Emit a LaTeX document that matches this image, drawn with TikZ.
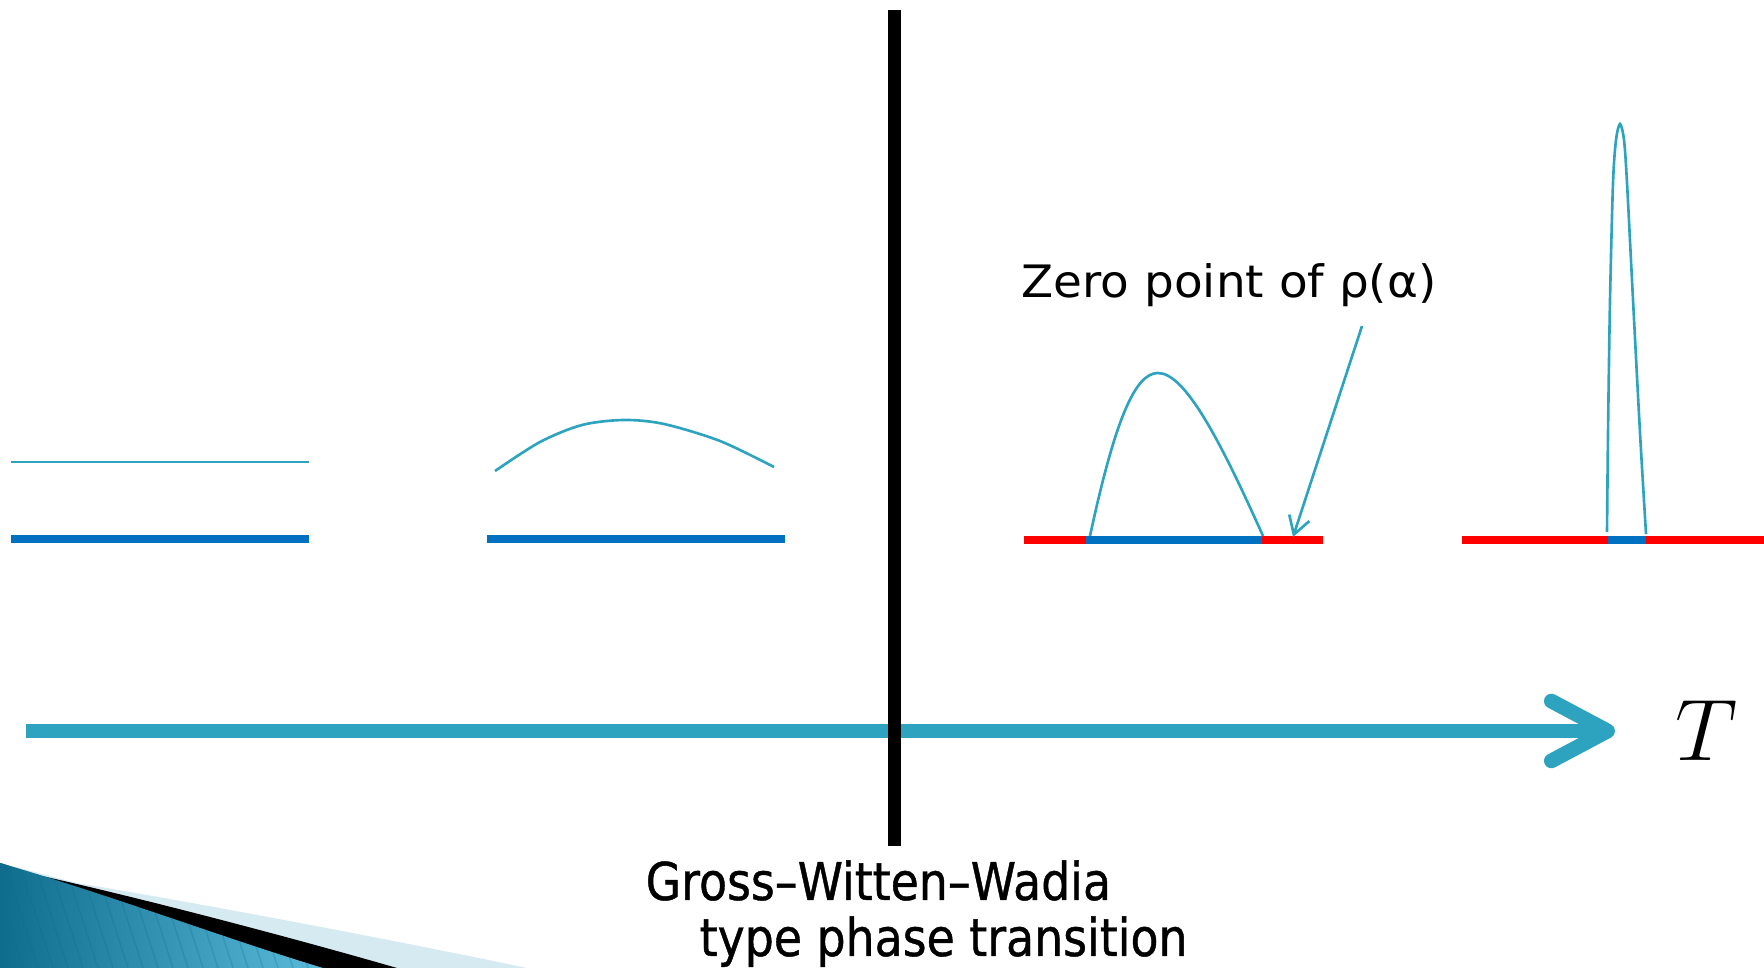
\documentclass[tikz,border=0pt]{standalone}
\usepackage{fontspec}
\setmainfont{DejaVu Sans}
\newfontfamily\zerofont[FakeStretch=1.05]{DejaVu Sans}
\newfontfamily\gwwfont[FakeStretch=0.88,FakeBold=0.8]{DejaVu Sans}
\usetikzlibrary{arrows.meta,positioning,calc}
\definecolor{Cyan}{HTML}{2DA3C0}
\definecolor{Band}{HTML}{0070C0}
\definecolor{Gap}{HTML}{FF0000}
\definecolor{Pale}{HTML}{D6EAF2}
\definecolor{DeepTeal}{HTML}{0E6C8C}
\definecolor{LightTeal}{HTML}{5CBCDC}

\begin{document}
\begin{tikzpicture}[x=0.01cm,y=-0.01cm,every node/.style={inner sep=0pt},
  rho/.style={Cyan,line width=0.75pt},
  band/.style={Band,line width=2.3pt},
  gap/.style={Gap,line width=2.3pt},
  axis/.style={Cyan,line width=4.2pt,-{Straight Barb[round,length=16pt,width=17pt]}}]
  \useasboundingbox (0,0) rectangle (1764,968);
  % corner swoosh of the slide
  \fill[Pale] (0,968) -- (0,863) -- (77,883) .. controls (180,900) and (380,937) .. (527,968) -- cycle;
  \fill[black] (0,968) -- (0,863) -- (33,874) .. controls (150,900) and (300,940) .. (397,968) -- cycle;
  \begin{scope}
    \clip (0,968) -- (0,863) .. controls (110,895) and (230,940) .. (323,968) -- cycle;
    \shade[left color=DeepTeal,right color=LightTeal] (0,850) rectangle (330,968);
    \foreach \i in {-60,-45,...,330}
      \draw[DeepTeal,opacity=0.25,line width=0.4pt] (\i,850) -- (\i+38,968);
  \end{scope}
  % densities rho(alpha), low T to high T
  \draw[rho] (11,462) -- (309,462);
  \draw[band] (11,539) -- (309,539);
  \draw[rho] plot[smooth] coordinates {(495,471) (540,442) (582,425) (624,420) (664,424) (720,441) (774,467)};
  \draw[band] (487,539) -- (785,539);
  \draw[gap] (1024,540) -- (1323,540);
  \draw[band] (1086,540) -- (1262,540);
  \draw[rho] (1090,536) .. controls (1115,420) and (1135,373) .. (1158,373)
                        .. controls (1185,373) and (1220,440) .. (1263,536);
  \draw[gap] (1462,540) -- (1764,540);
  \draw[band] (1608,540) -- (1646,540);
  \draw[rho] plot[smooth] coordinates {(1607,532) (1608,433) (1610,300) (1613,183) (1616,140) (1620,124) (1624,140) (1627,183) (1633,300) (1640,433) (1646,534)};
  % zero point label
  \node[anchor=base west,font=\zerofont\fontsize{12.7}{15}\selectfont] (zero) at (1021,298) {Zero point of ρ(α)};
  \coordinate (ptrtail) at (1362,326);
  \coordinate (zeropt) at (1293,537);
  \draw[rho,-{Straight Barb[length=5pt,width=6pt]}] (ptrtail) -- (zeropt);
  % temperature axis
  \coordinate (axstart) at (26,731);
  \coordinate (axend) at (1615,731);
  \draw[axis] (axstart) -- (axend);
  \node[font=\fontsize{24.6}{30}\selectfont] (tlab) at (1707,731) {$T$};
  % transition wall
  \coordinate (wtop) at (894,10);
  \coordinate (wbot) at (894,846);
  \draw[line width=3.7pt] (wtop) -- (wbot);
  \node[anchor=base west,font=\gwwfont\fontsize{14.8}{18}\selectfont] (gww) at (645,900) {Gross–Witten–Wadia};
  \node[anchor=base west,font=\gwwfont\fontsize{14.8}{18}\selectfont] (gwwtype) at (699,956) {type phase transition};
\end{tikzpicture}
\end{document}
